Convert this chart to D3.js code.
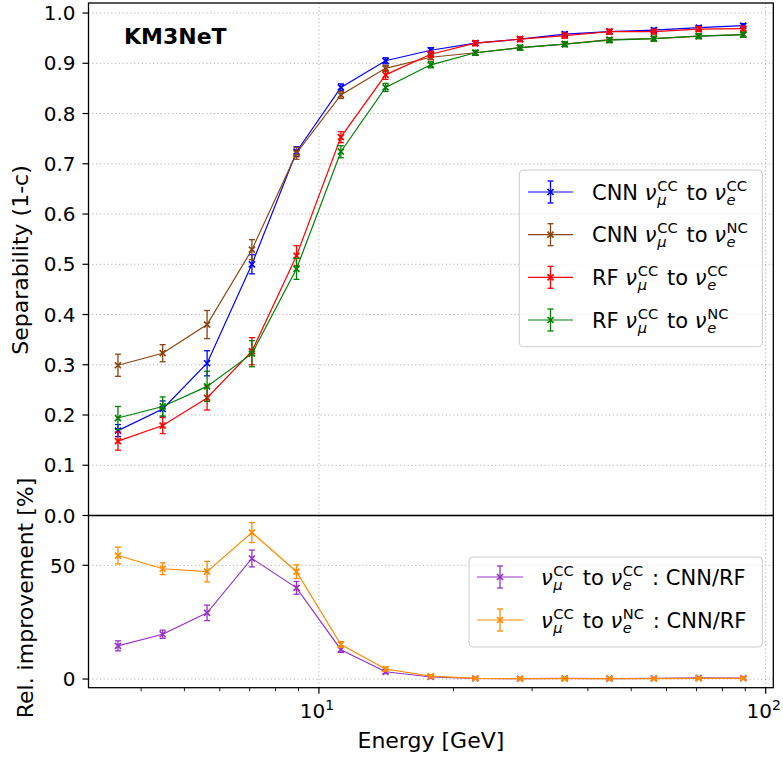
<!DOCTYPE html>
<html><head><meta charset="utf-8">
<script src="https://cdn.jsdelivr.net/npm/d3@7"></script>
<style>body{margin:0;background:#fff} text{font-family:"DejaVu Sans",sans-serif;fill:#000}</style>
</head><body>
<svg id="c" width="783" height="758"></svg>
<script>
// ---- data ----
const energies = [3.55, 4.47, 5.62, 7.08, 8.91, 11.2, 14.1, 17.8, 22.4, 28.2, 35.5, 44.7, 56.2, 70.8, 89.1];
const cnnCC    = [0.169, 0.212, 0.303, 0.500, 0.724, 0.852, 0.905, 0.926, 0.940, 0.948, 0.958, 0.963, 0.966, 0.971, 0.975];
const cnnCCErr = [0.012, 0.016, 0.025, 0.019, 0.010, 0.007, 0.006, 0.005, 0.004, 0.004, 0.004, 0.004, 0.004, 0.004, 0.004];
const cnnNC    = [0.299, 0.323, 0.380, 0.529, 0.721, 0.837, 0.890, 0.912, 0.921, 0.931, 0.938, 0.947, 0.949, 0.954, 0.957];
const cnnNCErr = [0.022, 0.017, 0.028, 0.020, 0.012, 0.007, 0.006, 0.005, 0.004, 0.004, 0.004, 0.004, 0.004, 0.004, 0.004];
const rfCC     = [0.148, 0.179, 0.234, 0.327, 0.517, 0.753, 0.877, 0.918, 0.940, 0.948, 0.955, 0.963, 0.963, 0.968, 0.969];
const rfCCErr  = [0.018, 0.016, 0.024, 0.027, 0.020, 0.011, 0.009, 0.006, 0.005, 0.005, 0.005, 0.005, 0.005, 0.005, 0.005];
const rfNC     = [0.194, 0.217, 0.257, 0.322, 0.491, 0.724, 0.852, 0.897, 0.921, 0.931, 0.938, 0.946, 0.949, 0.954, 0.957];
const rfNCErr  = [0.023, 0.019, 0.030, 0.026, 0.021, 0.012, 0.008, 0.006, 0.005, 0.005, 0.005, 0.005, 0.005, 0.005, 0.005];
const improvCC    = [14.6, 19.7, 29.1, 53.0, 40.1, 12.9, 3.2, 0.9, 0.3, 0.2, 0.3, 0.2, 0.3, 0.5, 0.4];
const improvCCErr = [2.2, 1.8, 3.4, 3.7, 2.8, 1.2, 0.8, 0.5, 0.4, 0.4, 0.4, 0.4, 0.4, 0.4, 0.4];
const improvNC    = [54.3, 48.5, 47.2, 64.4, 47.2, 15.2, 4.4, 1.3, 0.3, 0.2, 0.2, 0.2, 0.2, 0.3, 0.3];
const improvNCErr = [3.7, 2.6, 4.5, 4.4, 3.0, 1.3, 0.9, 0.6, 0.4, 0.4, 0.4, 0.4, 0.4, 0.4, 0.4];
const mainYTicks = [0.0, 0.1, 0.2, 0.3, 0.4, 0.5, 0.6, 0.7, 0.8, 0.9, 1.0];
const botYTicks = [0, 50];
const xMajorTicks = [10, 100];
const xMinorTicks = [4, 5, 6, 7, 8, 9, 20, 30, 40, 50, 60, 70, 80, 90];
const mainLegend = [
  ["CNN ", {base: "ν", sub: "μ", sup: "CC"}, " to ", {base: "ν", sub: "e", sup: "CC"}],
  ["CNN ", {base: "ν", sub: "μ", sup: "CC"}, " to ", {base: "ν", sub: "e", sup: "NC"}],
  ["RF ", {base: "ν", sub: "μ", sup: "CC"}, " to ", {base: "ν", sub: "e", sup: "CC"}],
  ["RF ", {base: "ν", sub: "μ", sup: "CC"}, " to ", {base: "ν", sub: "e", sup: "NC"}]
];
const botLegend = [
  [{base: "ν", sub: "μ", sup: "CC"}, " to ", {base: "ν", sub: "e", sup: "CC"}, " : CNN/RF"],
  [{base: "ν", sub: "μ", sup: "CC"}, " to ", {base: "ν", sub: "e", sup: "NC"}, " : CNN/RF"]
];

// ---- layout ----
const FS = 20, LFS = 21, AFS = 22;
const L = 88.5, R = 773.3, T = 3, MB = 515.5, BB = 687.7;
const svg = d3.select('#c');
const x = d3.scaleLog().domain([3.05, 104]).range([L, R]);
const yM = d3.scaleLinear().domain([0, 1.02]).range([MB, T]);
const yB = d3.scaleLinear().domain([-3.8, 71.9]).range([BB, MB]);

const gridCol = '#b0b0b0';
function hGrid(scale, ticks, y0, y1) {
  ticks.forEach(t => svg.append('line').attr('x1', L).attr('x2', R).attr('y1', scale(t)).attr('y2', scale(t))
    .attr('stroke', gridCol).attr('stroke-width', 1).attr('stroke-dasharray', '1.2,2.6'));
  xMajorTicks.forEach(t => svg.append('line').attr('x1', x(t)).attr('x2', x(t)).attr('y1', y0).attr('y2', y1)
    .attr('stroke', gridCol).attr('stroke-width', 1).attr('stroke-dasharray', '1.2,2.6'));
}
hGrid(yM, mainYTicks, T, MB);
hGrid(yB, botYTicks, MB, BB);

function marker(g, cx, cy, color) {
  const s = 3;
  g.append('path').attr('d', `M${cx-s},${cy-s}L${cx+s},${cy+s}M${cx-s},${cy+s}L${cx+s},${cy-s}`)
    .attr('stroke', color).attr('stroke-width', 1.7).attr('fill', 'none');
}
function errbar(g, cx, ya, yb, color) {
  g.append('line').attr('x1', cx).attr('x2', cx).attr('y1', ya).attr('y2', yb).attr('stroke', color).attr('stroke-width', 1.3);
  [ya, yb].forEach(yy => g.append('line').attr('x1', cx - 3).attr('x2', cx + 3).attr('y1', yy).attr('y2', yy)
    .attr('stroke', color).attr('stroke-width', 1.3));
}
function series(ys, errs, color, yScale) {
  const g = svg.append('g');
  const line = d3.line().x((d, i) => x(energies[i])).y(d => yScale(d));
  g.append('path').datum(ys).attr('d', line).attr('fill', 'none').attr('stroke', color).attr('stroke-width', 1.2);
  ys.forEach((v, i) => {
    errbar(g, x(energies[i]), yScale(v - errs[i]), yScale(v + errs[i]), color);
    marker(g, x(energies[i]), yScale(v), color);
  });
}
const cBlue = '#0000ff', cBrown = '#8b4513', cRed = '#ff0000', cGreen = '#008000', cPurple = '#9932cc', cOrange = '#ff8c00';
series(cnnCC, cnnCCErr, cBlue, yM);
series(cnnNC, cnnNCErr, cBrown, yM);
series(rfCC, rfCCErr, cRed, yM);
series(rfNC, rfNCErr, cGreen, yM);
series(improvCC, improvCCErr, cPurple, yB);
series(improvNC, improvNCErr, cOrange, yB);

// ---- spines ----
const spine = '#000';
svg.append('rect').attr('x', L).attr('y', T).attr('width', R - L).attr('height', MB - T).attr('fill', 'none').attr('stroke', spine).attr('stroke-width', 1.3);
svg.append('rect').attr('x', L).attr('y', MB).attr('width', R - L).attr('height', BB - MB).attr('fill', 'none').attr('stroke', spine).attr('stroke-width', 1.3);

// ---- y ticks ----
function yTicks(scale, ticks, fmt) {
  ticks.forEach(t => {
    const yy = scale(t);
    svg.append('line').attr('x1', L - 6).attr('x2', L).attr('y1', yy).attr('y2', yy).attr('stroke', spine).attr('stroke-width', 1.2);
    svg.append('text').attr('x', L - 13).attr('y', yy).attr('dy', '0.36em').attr('text-anchor', 'end')
      .style('font-size', FS + 'px').text(fmt(t));
  });
}
yTicks(yM, mainYTicks, d3.format('.1f'));
yTicks(yB, botYTicks, d3.format('d'));

// ---- x ticks ----
xMajorTicks.forEach(t => {
  const xx = x(t);
  svg.append('line').attr('x1', xx).attr('x2', xx).attr('y1', BB).attr('y2', BB + 6).attr('stroke', spine).attr('stroke-width', 1.2);
  const tx = svg.append('text').attr('x', xx - 2).attr('y', 718).attr('text-anchor', 'middle').style('font-size', FS + 'px');
  tx.append('tspan').text('10');
  tx.append('tspan').attr('dy', -8).style('font-size', '14px').text(String(Math.round(Math.log10(t))));
});
xMinorTicks.forEach(t => {
  const xx = x(t);
  svg.append('line').attr('x1', xx).attr('x2', xx).attr('y1', BB).attr('y2', BB + 3.5).attr('stroke', spine).attr('stroke-width', 0.9);
});

// ---- axis labels ----
svg.append('text').attr('x', (L + R) / 2).attr('y', 748).attr('text-anchor', 'middle').style('font-size', AFS + 'px').text('Energy [GeV]');
svg.append('text').attr('transform', `translate(28,260) rotate(-90)`).attr('text-anchor', 'middle').style('font-size', AFS + 'px').text('Separability (1-c)');
svg.append('text').attr('transform', `translate(33,598) rotate(-90)`).attr('text-anchor', 'middle').style('font-size', AFS + 'px').text('Rel. improvement [%]');

svg.append('text').attr('x', 124).attr('y', 44).style('font-size', '22px').style('font-weight', 'bold').text('KM3NeT');

// ---- legends ----
function mathText(g, x0, y, parts, fs) {
  const t = g.append('text').style('font-size', fs + 'px').style('white-space', 'pre');
  let cx = x0;
  const add = (txt, size, yy, italic) => {
    const s = t.append('tspan').attr('x', cx).attr('y', yy).style('font-size', size + 'px')
      .style('font-style', italic ? 'italic' : 'normal').text(txt);
    return s.node().getComputedTextLength();
  };
  parts.forEach(p => {
    if (typeof p === 'string') cx += add(p, fs, y, false);
    else {
      cx += add(p.base, fs, y, true) + 0.03 * fs;
      const save = cx;
      const w1 = add(p.sup, fs * 0.7, y - 0.42 * fs, false);
      cx = save;
      const w2 = add(p.sub, fs * 0.7, y + 0.24 * fs, true);
      cx = save + Math.max(w1, w2) + 0.1 * fs;
    }
  });
}
function legend(box, entries, colors, hx0, hx1, tx, ys) {
  const g = svg.append('g');
  g.append('rect').attr('x', box[0]).attr('y', box[1]).attr('width', box[2] - box[0]).attr('height', box[3] - box[1])
    .attr('rx', 4).attr('fill', '#fff').attr('fill-opacity', 0.8).attr('stroke', '#cccccc').attr('stroke-width', 1);
  entries.forEach((e, i) => {
    const yy = ys[i], c = colors[i], mx = (hx0 + hx1) / 2;
    g.append('line').attr('x1', hx0).attr('x2', hx1).attr('y1', yy).attr('y2', yy).attr('stroke', c).attr('stroke-width', 1.2);
    errbar(g, mx, yy - 11, yy + 11, c);
    marker(g, mx, yy, c);
    mathText(g, tx, yy + 7.5, e, LFS);
  });
}
legend([519.3, 170, 762.3, 346.7], mainLegend, [cBlue, cBrown, cRed, cGreen], 528, 573, 592, [192, 234.7, 277.3, 320]);
legend([469, 557, 762.3, 647], botLegend, [cPurple, cOrange], 477, 523, 541, [577, 620]);
</script>
</body></html>
